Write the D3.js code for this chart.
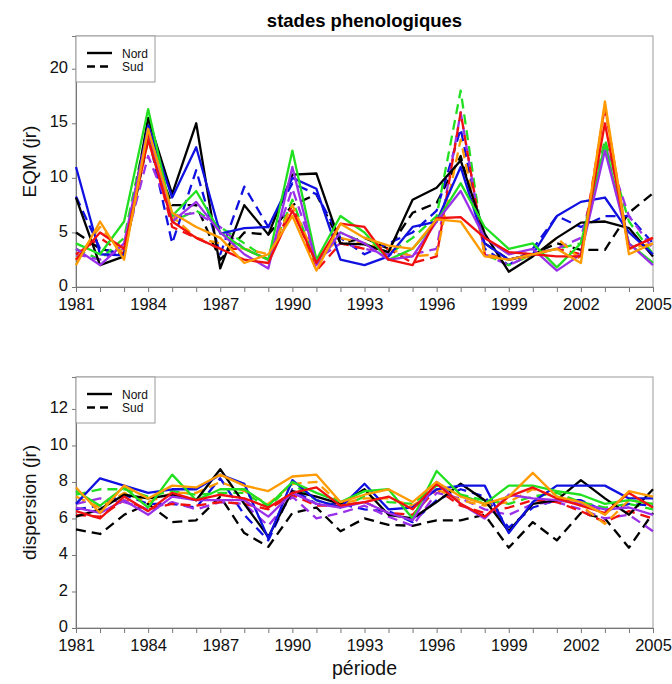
<!DOCTYPE html>
<html><head><meta charset="utf-8">
<script src="https://cdn.jsdelivr.net/npm/d3@7"></script>
<style>body{margin:0;background:#fff}svg{display:block}text{font-family:"Liberation Sans",Arial,sans-serif}</style>
</head><body><svg id="c" width="672" height="684"></svg>
<script>
const years = d3.range(1981, 2006);
const yearTicks = [1981,1984,1987,1990,1993,1996,1999,2002,2005];
const eqmTicks = [0,5,10,15,20];
const dispTicks = [0,2,4,6,8,10,12];
const colorNames = ["black","blue","green","purple","red","orange"];
const colorValues = ["#000000","#1010e0","#20e020","#9a30e8","#f01010","#ff9a00"];

// EQM (top panel) – Nord (solid) and Sud (dashed)
const eqmNord = {
  black:  [8.2,2.0,2.8,15.5,8.5,15.0,1.7,7.5,4.8,10.3,10.4,4.0,3.9,3.2,8.0,9.1,11.6,4.9,1.4,2.8,4.5,5.9,6.0,5.4,2.8],
  blue:   [11.0,3.0,2.9,14.8,8.2,12.8,4.9,5.4,5.5,10.0,9.0,2.5,2.0,2.8,5.5,6.0,11.0,4.0,2.5,3.0,6.5,7.8,8.2,5.0,3.0],
  green:  [4.0,3.0,6.0,16.3,6.5,8.8,5.0,3.5,2.5,12.5,2.5,6.5,5.0,2.5,3.5,6.0,9.5,5.5,3.5,4.0,1.8,4.0,13.0,4.0,2.2],
  purple: [3.5,2.0,4.0,14.5,6.0,7.8,5.0,3.0,1.7,11.0,2.0,5.0,4.0,2.5,2.8,6.0,8.8,4.5,3.0,3.5,1.5,3.0,12.5,4.0,2.0],
  red:    [2.5,5.0,3.5,13.5,6.0,4.5,3.5,2.5,2.2,7.0,2.2,5.8,5.5,2.5,2.0,6.3,6.4,4.5,3.2,3.0,2.8,2.8,15.0,3.5,4.5],
  orange: [2.0,6.0,2.5,14.5,6.8,5.5,4.5,2.2,3.0,6.5,1.5,5.8,4.5,3.8,3.5,6.2,6.0,2.8,2.5,3.0,3.5,2.2,17.0,3.0,4.0]
};
const eqmSud = {
  black:  [5.0,3.5,3.0,13.5,7.5,7.5,2.5,5.0,4.8,7.5,8.5,4.0,4.5,3.5,6.8,7.7,12.0,4.0,2.5,3.0,4.0,3.4,3.4,6.8,8.6],
  blue:   [8.3,3.5,3.0,14.0,4.0,10.7,3.0,9.2,5.5,9.5,8.5,4.5,3.0,4.0,5.0,7.0,14.5,3.5,2.0,3.5,6.5,5.5,6.5,6.5,4.0],
  green:  [3.5,2.5,4.5,15.0,6.0,7.0,5.5,4.0,2.5,8.0,2.0,5.0,4.0,3.0,4.5,6.5,18.0,3.0,2.0,3.0,3.5,4.0,13.5,6.0,3.0],
  purple: [3.0,2.5,3.5,12.0,6.5,6.8,5.5,3.5,2.5,9.0,2.5,4.0,3.5,3.0,3.0,3.5,16.0,3.0,2.0,3.0,3.5,4.5,13.0,6.5,3.5],
  red:    [3.0,4.5,3.0,14.0,5.5,4.5,3.5,3.5,2.5,7.5,1.5,4.0,3.5,3.5,2.2,2.8,16.0,3.0,2.5,3.0,3.5,3.0,16.5,3.5,4.5],
  orange: [2.5,5.5,3.0,13.5,6.5,4.5,4.0,3.5,3.0,7.5,2.5,4.5,4.0,3.5,2.8,3.0,13.5,3.0,2.5,2.8,4.5,2.5,16.5,3.5,4.0]
};
// dispersion (bottom panel)
const dispNord = {
  black:  [6.1,6.5,7.3,7.1,7.3,7.0,8.7,6.8,5.0,7.5,7.2,6.8,7.6,6.2,6.0,6.9,7.9,7.0,5.3,6.8,7.0,8.1,7.1,6.2,7.6],
  blue:   [6.8,8.2,7.8,7.4,7.6,7.6,8.4,7.9,4.9,8.1,7.0,6.6,7.9,6.5,6.6,7.6,7.8,7.8,5.2,6.9,7.8,7.8,7.8,7.1,7.1],
  green:  [7.5,6.7,7.7,6.6,8.4,7.0,7.6,7.6,6.7,8.0,7.4,6.9,7.5,7.6,6.0,8.6,7.3,6.8,7.8,7.8,7.5,7.3,6.8,7.0,6.8],
  purple: [6.6,6.3,7.0,6.2,7.2,7.0,7.0,7.0,6.1,7.4,6.8,6.6,6.9,6.3,5.9,8.0,6.8,6.0,7.3,7.1,7.0,6.8,6.5,6.6,6.2],
  red:    [6.4,6.0,7.2,6.4,7.4,7.0,7.3,7.1,6.6,7.4,7.7,6.7,6.9,7.2,6.5,7.9,6.8,6.1,7.2,7.7,7.1,6.7,6.3,7.4,6.6],
  orange: [7.7,6.3,7.8,7.1,7.8,7.7,8.4,7.8,7.5,8.3,8.4,6.9,7.3,7.6,6.9,8.0,7.2,6.8,7.2,8.5,7.2,6.9,6.2,7.5,7.2]
};
const dispSud = {
  black:  [5.4,5.15,6.2,6.8,5.8,5.9,7.2,5.2,4.45,6.3,6.6,5.3,6.0,5.65,5.6,5.9,5.9,6.2,4.4,5.8,4.8,6.3,6.0,4.4,6.3],
  blue:   [6.5,6.7,7.3,6.8,6.8,6.6,8.2,6.2,4.8,7.6,6.8,6.8,6.5,6.4,5.8,7.0,7.6,7.2,5.5,6.6,7.0,7.0,6.4,6.8,6.7],
  green:  [7.3,7.6,7.6,7.2,7.5,7.3,7.4,7.4,6.6,7.9,7.0,6.6,7.2,6.9,6.8,7.8,7.3,7.0,6.8,7.2,7.4,6.9,6.6,6.8,6.5],
  purple: [6.8,7.1,6.9,6.5,6.9,6.5,6.9,6.8,5.6,7.2,6.0,6.3,6.7,6.1,5.6,7.4,7.1,6.5,6.2,6.8,6.9,6.5,6.0,6.2,5.3],
  red:    [6.2,6.1,7.0,6.5,6.8,6.7,6.9,6.8,6.5,7.3,6.7,6.7,6.9,6.3,6.2,7.6,6.7,6.3,6.6,7.0,6.9,6.4,5.8,6.4,6.0],
  orange: [7.2,6.6,7.4,6.9,7.4,7.4,8.0,7.5,6.8,7.9,8.0,6.8,7.1,7.1,6.7,7.6,7.0,6.7,6.9,7.6,7.2,6.7,5.7,7.0,6.8]
};
const titleText = "stades phenologiques";
const legendLabels = ["Nord","Sud"];

const svg = d3.select("#c");
const L = 76, R = 653;
const x = d3.scaleLinear().domain([1981,2005]).range([L,R]);
const color = d3.scaleOrdinal().domain(colorNames).range(colorValues);

svg.append("text").attr("x",(L+R)/2).attr("y",27).attr("text-anchor","middle")
  .attr("font-size",18.5).attr("font-weight","bold").text(titleText);

function panel(top, bottom, ymax, yticks, ylabel, nord, sud){
  const y = d3.scaleLinear().domain([0,ymax]).range([bottom,top]);
  const g = svg.append("g");
  g.append("rect").attr("x",L).attr("y",top).attr("width",R-L).attr("height",bottom-top)
    .attr("fill","none").attr("stroke","#9a9a9a").attr("stroke-width",1);
  const xa = g.append("g").attr("transform",`translate(0,${bottom})`)
    .call(d3.axisBottom(x).tickValues(years).tickSize(5).tickFormat(d => yearTicks.includes(d) ? d : ""));
  const ya = g.append("g").attr("transform",`translate(${L},0)`)
    .call(d3.axisLeft(y).tickValues(yticks).tickSize(4).tickFormat(d3.format("d")));
  [xa,ya].forEach(a=>{
    a.select(".domain").attr("stroke","#777");
    a.selectAll(".tick line").attr("stroke","#777");
    a.selectAll("text").attr("font-size",16.5).attr("fill","#111").attr("font-family","Liberation Sans, Arial, sans-serif");
  });
  xa.selectAll("text").attr("dy","0.95em").attr("y",7);
  ya.selectAll("text").attr("x",-8).attr("dy","0.22em");
  g.append("text").attr("transform",`translate(36,${(top+bottom)/2}) rotate(-90)`)
    .attr("text-anchor","middle").attr("font-size",19).attr("fill","#111").text(ylabel);

  const line = d3.line().x((d,i)=>x(years[i])).y(d=>y(d));
  const lg = g.append("g");
  colorNames.forEach(c=>{
    lg.append("path").datum(sud[c]).attr("d",line).attr("fill","none")
      .attr("stroke",color(c)).attr("stroke-width",2.3).attr("stroke-dasharray","10,6").attr("stroke-linejoin","round");
  });
  colorNames.forEach(c=>{
    lg.append("path").datum(nord[c]).attr("d",line).attr("fill","none")
      .attr("stroke",color(c)).attr("stroke-width",2.3).attr("stroke-linejoin","round");
  });
  const lgd = g.append("g");
  lgd.append("rect").attr("x",L).attr("y",top).attr("width",79).attr("height",46)
    .attr("fill","#fff").attr("stroke","#9a9a9a");
  legendLabels.forEach((t,i)=>{
    const yy = top+17+i*13.5;
    lgd.append("line").attr("x1",L+11).attr("x2",L+36).attr("y1",yy).attr("y2",yy)
      .attr("stroke","#000").attr("stroke-width",2.4).attr("stroke-dasharray", i ? "8,5" : null);
    lgd.append("text").attr("x",L+46).attr("y",yy+4.5).attr("font-size",12).attr("fill","#111").text(t);
  });
}
panel(36, 287, 23, eqmTicks, "EQM (jr)", eqmNord, eqmSud);
panel(377, 628, 13.75, dispTicks, "dispersion (jr)", dispNord, dispSud);
svg.append("text").attr("x",(L+R)/2).attr("y",675).attr("text-anchor","middle")
  .attr("font-size",19.5).attr("fill","#111").text("période");
</script></body></html>
